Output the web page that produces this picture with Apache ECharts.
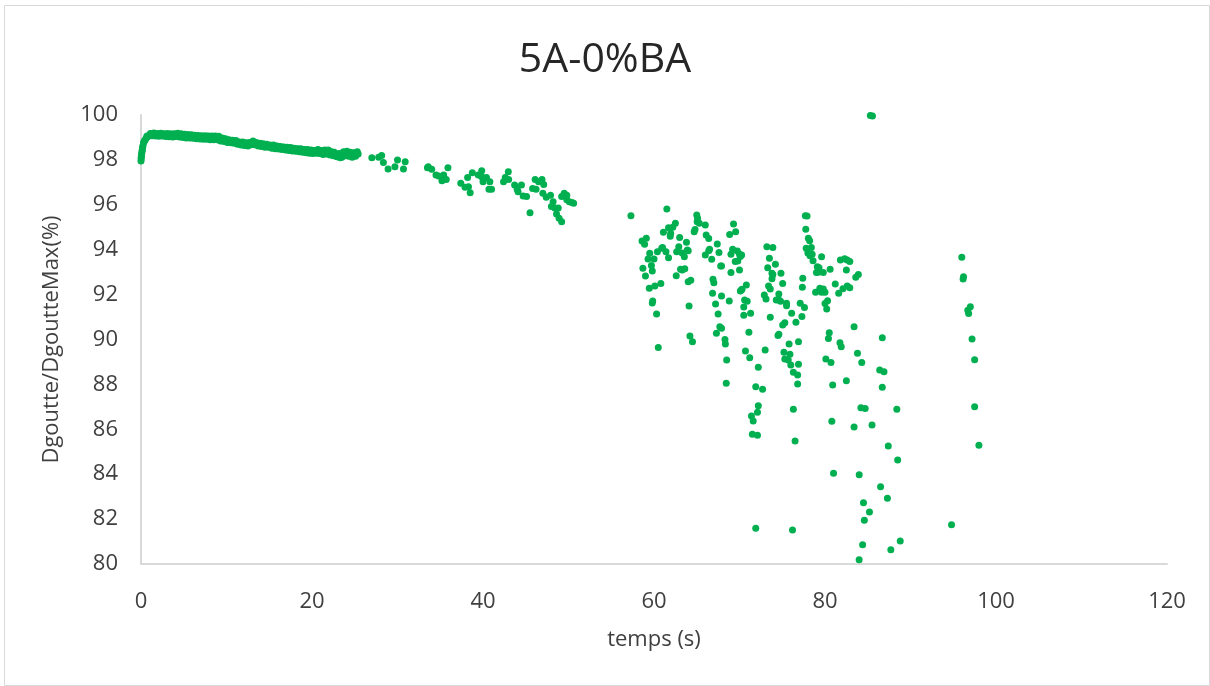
<!DOCTYPE html>
<html>
<head>
<meta charset="utf-8">
<script src="https://cdn.jsdelivr.net/npm/echarts@6/dist/echarts.min.js"></script>
<style>
html,body{margin:0;padding:0;background:#fff;}
#c{width:1210px;height:686px;}
</style>
</head>
<body>
<div id="c"></div>
<script>
var titleText = "5A-0%BA";
var xAxisName = "temps (s)";
var yAxisName = "Dgoutte/DgoutteMax(%)";
var xTicks = [0, 20, 40, 60, 80, 100, 120];
var yTicks = [80, 82, 84, 86, 88, 90, 92, 94, 96, 98, 100];

// dense part 0 - 25.4 s
var segA = [
[0.00,97.95],[0.02,98.05],[0.03,98.12],[0.08,98.28],[0.15,98.45],[0.22,98.62],[0.3,98.75],[0.4,98.84],[0.5,98.9],[0.6,98.97],[0.75,99.02],[0.9,99.08],[1.05,99.12],[1.2,99.16],[1.4,99.13],[1.6,99.15],[1.8,99.1],[2.0,99.14],[2.2,99.09],[2.4,99.12],[2.6,99.15],[2.8,99.08],[3.0,99.11],[3.2,99.06],[3.4,99.13],[3.6,99.1],[3.8,99.04],[4.0,99.12],[4.2,99.15],[4.4,99.08],[4.6,99.1],[4.8,99.05],[5.0,99.09],[5.2,99.02],[5.4,99.07],[5.6,99.04],[5.8,99.08],[6.0,99.03],[6.2,99.06],[6.4,98.98],[6.6,99.04],[6.8,99.0],[7.0,99.05],[7.2,98.96],[7.4,99.02],[7.6,98.99],[7.8,99.05],[8.0,98.94],[8.2,99.0],[8.4,98.96],[8.6,99.04],[8.8,98.98],[9.0,99.02],[9.2,98.92],[9.4,98.88],[9.6,98.95],[9.8,98.85],[10.0,98.9],[10.2,98.82],[10.4,98.86],[10.6,98.8],[10.8,98.84],[11.0,98.78],[11.2,98.82],[11.4,98.76],[11.6,98.72],[11.8,98.78],[12.0,98.7],[12.2,98.74],[12.4,98.66],[12.6,98.7],[12.8,98.76],[13.0,98.72],[13.2,98.8],[13.4,98.74],[13.6,98.7],[13.8,98.66],[14.0,98.72],[14.2,98.64],[14.4,98.68],[14.6,98.6],[14.8,98.66],[15.0,98.62],[15.2,98.58],[15.4,98.64],[15.6,98.56],[15.8,98.6],[16.0,98.54],[16.2,98.58],[16.4,98.5],[16.6,98.56],[16.8,98.52],[17.0,98.47],[17.2,98.53],[17.4,98.48],[17.6,98.52],[17.8,98.45],[18.0,98.5],[18.2,98.44],[18.4,98.48],[18.6,98.42],[18.8,98.46],[19.0,98.4],[19.2,98.44],[19.4,98.38],[19.6,98.42],[19.8,98.36],[20.0,98.4],[20.2,98.34],[20.4,98.38],[20.6,98.43],[20.8,98.36],[21.0,98.32],[21.2,98.38],[21.4,98.3],[21.6,98.42],[21.8,98.35],[22.0,98.4],[22.2,98.3],[22.4,98.26],[22.6,98.34],[22.8,98.22],[23.0,98.18],[23.2,98.28],[23.3,98.1],[23.4,98.2],[23.6,98.32],[23.8,98.26],[24.0,98.35],[24.2,98.22],[24.4,98.3],[24.6,98.18],[24.8,98.28],[25.0,98.24],[25.2,98.32],[25.4,98.26]
];

// second trace of the dense part (scatter around the same band)
var segA2 = [
[0.05,98.2],[0.12,98.38],[0.18,98.55],[0.35,98.82],[0.7,99.06],[1.1,99.18],[1.3,99.08],[1.5,99.2],[1.7,99.06],[1.9,99.18],[2.1,99.05],[2.3,99.19],[2.5,99.06],[2.7,99.17],[2.9,99.04],[3.1,99.18],[3.3,99.03],[3.5,99.17],[3.7,99.02],[3.9,99.16],[4.1,99.04],[4.3,99.19],[4.5,99.02],[4.7,99.16],[4.9,99.0],[5.1,99.14],[5.3,98.98],[5.5,99.13],[5.7,98.98],[5.9,99.12],[6.1,98.96],[6.3,99.1],[6.5,98.94],[6.7,99.09],[6.9,98.93],[7.1,99.08],[7.3,98.92],[7.5,99.08],[7.7,98.92],[7.9,99.06],[8.1,98.9],[8.3,99.06],[8.5,98.9],[8.7,99.07],[8.9,98.9],[9.1,99.05],[9.3,98.84],[9.5,98.98],[9.7,98.82],[9.9,98.94],[10.1,98.78],[10.3,98.9],[10.5,98.76],[10.7,98.88],[10.9,98.74],[11.1,98.86],[11.3,98.7],[11.5,98.8],[11.7,98.66],[11.9,98.8],[12.1,98.64],[12.3,98.76],[12.5,98.62],[12.7,98.78],[12.9,98.68],[13.1,98.84],[13.3,98.68],[13.5,98.78],[13.7,98.62],[13.9,98.74],[14.1,98.6],[14.3,98.72],[14.5,98.56],[14.7,98.7],[14.9,98.56],[15.1,98.66],[15.3,98.52],[15.5,98.66],[15.7,98.5],[15.9,98.62],[16.1,98.48],[16.3,98.6],[16.5,98.46],[16.7,98.58],[16.9,98.44],[17.1,98.56],[17.3,98.42],[17.5,98.55],[17.7,98.4],[17.9,98.52],[18.1,98.38],[18.3,98.5],[18.5,98.36],[18.7,98.5],[18.9,98.34],[19.1,98.46],[19.3,98.32],[19.5,98.46],[19.7,98.3],[19.9,98.44],[20.1,98.28],[20.3,98.42],[20.5,98.3],[20.7,98.46],[20.9,98.28],[21.1,98.42],[21.3,98.24],[21.5,98.44],[21.7,98.26],[21.9,98.44],[22.1,98.22],[22.3,98.36],[22.5,98.18],[22.7,98.3],[22.9,98.14],[23.1,98.24],[23.5,98.12],[23.7,98.36],[23.9,98.18],[24.1,98.38],[24.3,98.16],[24.5,98.34],[24.7,98.12],[24.9,98.32],[25.1,98.16],[25.3,98.36]
];

// 26 - 51 s
var segB = [
[27.0,98.1],[27.8,98.12],[28.15,98.2],[28.35,97.88],[28.9,97.6],[29.7,97.7],[30.0,98.0],[30.7,97.6],[30.9,97.92],[33.5,97.65],[33.6,97.7],[34.0,97.58],[34.5,97.33],[34.8,97.28],[35.2,97.07],[35.4,97.33],[35.7,97.13],[35.9,97.65],[37.4,96.96],[37.9,96.78],[38.2,97.22],[38.3,96.8],[38.5,96.54],[38.75,97.43],[39.45,97.33],[39.85,97.52],[40.0,97.03],[39.85,97.25],[40.4,97.22],[40.7,96.69],[40.8,97.03],[41.0,96.69],[42.4,97.03],[42.6,97.22],[42.96,97.47],[43.0,97.13],[43.7,96.88],[44.0,96.69],[44.1,96.58],[44.5,96.88],[44.7,96.39],[45.1,96.37],[45.5,95.65],[45.8,96.73],[46.1,97.13],[46.2,96.69],[46.5,97.03],[46.9,97.13],[47.1,96.9],[47.0,96.51],[47.4,96.34],[47.9,96.43],[48.0,95.92],[48.2,96.14],[48.4,95.86],[48.8,95.86],[48.6,95.59],[48.9,95.4],[49.2,95.25],[49.2,96.37],[49.5,96.51],[49.8,96.43],[49.8,96.22],[50.1,96.14],[50.6,96.07],[50.4,96.1]
];

// 57 - 99 s
var segC = [
[57.3,95.51],[61.5,95.81],[58.6,94.39],[58.9,94.24],[59.1,94.51],[59.5,93.84],[59.3,93.59],[60.0,93.59],[58.7,93.17],[59.8,93.05],[59.7,93.3],[59.0,92.83],[59.45,92.28],[60.1,92.38],[60.8,92.5],[59.85,91.71],[59.8,91.63],[60.3,91.14],[60.5,89.64],[60.4,93.91],[60.9,94.06],[61.0,94.1],[61.4,93.91],[61.1,94.78],[61.7,93.64],[61.7,94.98],[61.95,94.73],[61.9,94.6],[62.5,95.18],[62.2,95.0],[63.0,94.54],[62.65,93.91],[63.3,93.85],[62.9,94.13],[63.8,94.33],[63.9,93.99],[64.0,93.95],[63.55,93.69],[62.6,92.84],[63.1,93.13],[63.3,93.1],[63.6,93.15],[64.0,92.57],[64.3,92.64],[64.1,91.49],[64.2,90.16],[64.5,89.9],
[65.0,95.55],[65.1,95.4],[65.05,95.25],[65.3,95.18],[66.0,95.1],[64.8,94.9],[64.7,94.8],[66.1,94.65],[66.4,94.5],[66.5,94.02],[66.4,93.95],[66.0,93.76],[66.75,93.57],[67.4,94.25],[67.6,93.88],[67.8,93.27],[67.9,93.27],[66.9,92.68],[67.0,92.53],[66.85,92.06],[67.9,91.94],[67.2,91.58],[68.8,91.71],[67.5,91.14],[67.7,90.57],[67.9,90.5],[67.3,90.28],[68.3,90.0],[68.35,89.8],[68.5,89.09],[68.45,88.05],
[69.3,95.14],[69.55,94.8],[68.85,94.68],[69.2,94.02],[69.0,93.8],[69.75,93.94],[70.0,93.8],[70.1,93.7],[69.5,93.47],[69.8,93.5],[70.0,93.1],[69.0,92.98],[70.8,92.43],[70.1,92.16],[70.3,92.24],[70.6,91.76],[70.9,91.7],[70.5,91.45],[71.3,91.17],[70.5,91.08],[71.1,90.32],[70.7,89.49],[71.2,89.19],[72.2,88.76],[71.9,87.9],[72.2,87.05],[72.1,86.76],[71.4,86.59],[71.6,86.37],[71.5,85.78],[72.1,85.73],[71.9,81.59],[72.7,87.78],[70.25,93.76],[70.2,92.2],
[73.2,94.13],[73.9,94.1],[73.5,93.62],[74.2,93.35],[73.3,93.2],[73.8,92.95],[73.9,92.9],[74.85,92.95],[73.8,92.71],[75.05,92.5],[73.4,92.38],[73.6,92.25],[74.6,92.03],[72.9,91.98],[73.1,91.8],[74.3,91.76],[74.6,91.76],[74.8,91.7],[75.5,91.61],[75.5,91.5],[73.6,90.99],[75.05,90.65],[75.3,90.75],[74.6,90.23],[74.5,90.18],[73.0,89.53],
[77.7,95.51],[77.9,95.5],[77.75,94.91],[78.05,94.51],[78.2,94.4],[77.8,94.06],[78.4,94.1],[78.0,93.85],[78.25,93.73],[78.5,93.8],[78.6,93.51],[79.6,93.69],[79.1,93.24],[79.3,93.2],[79.0,92.98],[79.2,93.0],[79.8,92.98],[80.6,93.13],[81.8,93.54],[82.3,93.6],[82.6,93.54],[82.9,93.47],[82.5,93.1],[83.9,92.9],[83.6,92.77],[81.2,92.47],[82.1,92.26],[82.6,92.38],[82.9,92.3],[81.6,92.06],[77.4,92.73],[77.35,92.33],[79.4,92.28],[79.8,92.25],[79.6,92.1],[80.0,92.1],[78.9,92.1],[80.3,91.73],[80.0,91.6],[80.2,91.36],[77.1,91.61],[77.6,91.42],[77.3,91.02],[76.1,91.17],[76.6,90.77],[76.9,89.9],[75.9,89.34],[75.8,89.8],[75.2,89.43],[75.3,89.13],[75.7,89.09],[76.0,88.86],[76.9,88.9],[76.3,88.54],[76.8,88.42],[76.8,88.02],
[80.5,90.3],[80.4,90.05],[81.75,89.86],[81.9,89.68],[80.1,89.13],[80.7,88.98],[83.4,90.57],[83.8,89.39],[84.3,88.97],[86.7,90.08],[86.4,88.64],[86.9,88.56],[86.7,87.87],[80.9,87.97],[82.5,88.16],[76.3,86.89],[76.5,85.48],[80.8,86.36],[84.2,86.96],[84.7,86.93],[83.4,86.1],[85.5,86.19],[88.4,86.89],[87.4,85.26],[88.5,84.63],[81.0,84.04],[84.0,83.98],[86.5,83.44],[87.3,82.93],[84.5,82.73],[85.2,82.32],[84.6,81.95],[76.2,81.51],[84.4,80.86],[87.7,80.64],[88.8,81.02],[83.99,80.19],
[85.3,99.98],[85.55,99.95],
[96.0,93.66],[96.2,92.8],[96.15,92.7],[97.0,91.46],[96.7,91.3],[96.8,91.16],[97.2,90.02],[97.5,89.1],[97.5,87.01],[98.0,85.29],[94.8,81.75]
];

var green = "#00B050";
var textColor = "#404040";
var font = "Open Sans";

var chart = echarts.init(document.getElementById("c"), null, {renderer: "canvas"});
var mk = function (d) {
  return {type: "scatter", data: d, symbolSize: 7, itemStyle: {color: green, opacity: 1}};
};
chart.setOption({
  animation: false,
  backgroundColor: "#ffffff",
  graphic: [{
    type: "rect", left: 2, top: 3, silent: true,
    shape: {width: 1205, height: 680},
    style: {fill: "none", stroke: "#d9d9d9", lineWidth: 1}
  }],
  title: {
    text: titleText, left: "center", top: 35,
    textStyle: {fontFamily: font, fontSize: 41, fontWeight: "normal", color: "#262626"}
  },
  grid: {left: 141, right: 43, top: 115, bottom: 122, containLabel: false},
  xAxis: {
    type: "value", min: xTicks[0], max: xTicks[xTicks.length - 1], interval: 20,
    name: xAxisName, nameLocation: "middle", nameGap: 65,
    nameTextStyle: {fontFamily: font, fontSize: 22, color: textColor},
    axisLine: {show: true, lineStyle: {color: "#d9d9d9", width: 2}},
    axisTick: {show: false},
    splitLine: {show: false},
    axisLabel: {fontFamily: font, fontSize: 22, color: textColor, margin: 27}
  },
  yAxis: {
    type: "value", min: yTicks[0], max: yTicks[yTicks.length - 1], interval: 2,
    name: yAxisName, nameLocation: "middle", nameGap: 78,
    nameTextStyle: {fontFamily: font, fontSize: 22, color: textColor},
    axisLine: {show: true, lineStyle: {color: "#d9d9d9", width: 2}},
    axisTick: {show: false},
    splitLine: {show: false},
    axisLabel: {fontFamily: font, fontSize: 22, color: textColor, margin: 23}
  },
  series: [mk(segA), mk(segA2), mk(segB), mk(segC)]
});
</script>
</body>
</html>
